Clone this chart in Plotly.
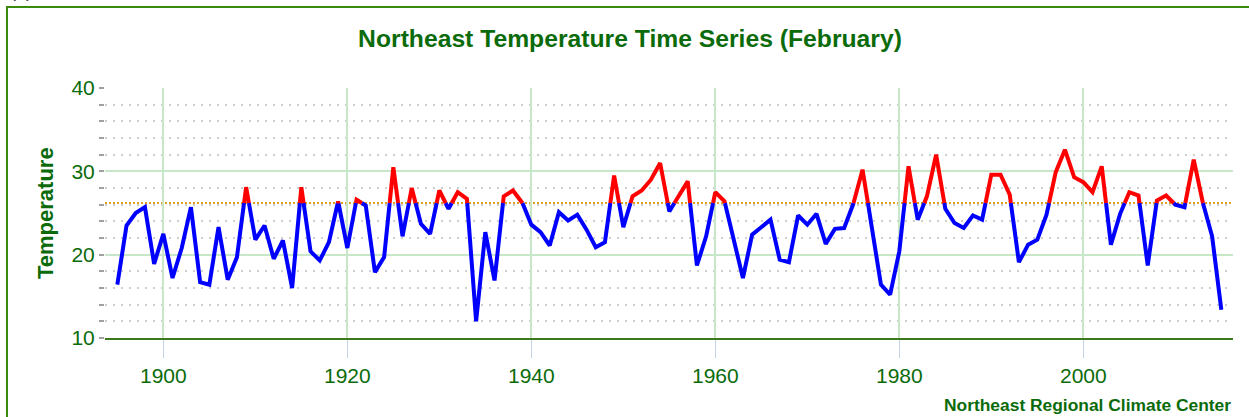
import plotly.graph_objects as go

years = list(range(1895, 2016))
temps = [
    16.4, 23.5, 25.0, 25.7, 18.9,                    # 1895-1899
    22.5, 17.2, 20.8, 25.7, 16.7, 16.4, 23.3, 17.0, 19.7, 28.1,  # 1900-1909
    21.8, 23.5, 19.5, 21.7, 16.0, 28.1, 20.4, 19.3, 21.5, 26.4,  # 1910-1919
    20.8, 26.6, 25.9, 17.9, 19.7, 30.5, 22.2, 28.0, 23.7, 22.5,  # 1920-1929
    27.7, 25.5, 27.5, 26.7, 12.0, 22.7, 16.9, 27.0, 27.7, 26.3,  # 1930-1939
    23.6, 22.7, 21.1, 25.1, 24.1, 24.8, 23.0, 20.9, 21.5, 29.5,  # 1940-1949
    23.3, 27.0, 27.7, 29.0, 31.0, 25.2, 27.0, 28.8, 18.7, 22.2,  # 1950-1959
    27.5, 26.4, 21.8, 17.2, 22.4, 23.3, 24.2, 19.4, 19.1, 24.7,  # 1960-1969
    23.6, 24.9, 21.3, 23.1, 23.2, 26.1, 30.2, 23.4, 16.4, 15.2,  # 1970-1979
    20.4, 30.6, 24.2, 27.0, 32.0, 25.5, 23.8, 23.2, 24.7, 24.2,  # 1980-1989
    29.6, 29.6, 27.2, 19.1, 21.2, 21.8, 24.8, 29.9, 32.6, 29.3,  # 1990-1999
    28.7, 27.5, 30.6, 21.2, 24.9, 27.5, 27.1, 18.7, 26.5, 27.1,  # 2000-2009
    26.0, 25.7, 31.4, 26.2, 22.2, 13.4,                          # 2010-2015
]
mean_value = 26.2

x_ticks = [1900, 1920, 1940, 1960, 1980, 2000]
y_ticks = [10, 20, 30, 40]

GREEN = "#0b6b0b"
FONT = "Arial, Liberation Sans, sans-serif"

# densify with crossing points at the mean so colours split exactly there
dx, dy = [], []
for i in range(len(years)):
    if i > 0:
        y0, y1 = temps[i - 1], temps[i]
        if (y0 - mean_value) * (y1 - mean_value) < 0:
            t = (mean_value - y0) / (y1 - y0)
            dx.append(years[i - 1] + t * (years[i] - years[i - 1]))
            dy.append(mean_value)
    dx.append(years[i])
    dy.append(temps[i])

red_y = [v if v >= mean_value else None for v in dy]
blue_y = [v if v <= mean_value else None for v in dy]

fig = go.Figure()
fig.add_trace(go.Scatter(x=dx, y=blue_y, mode="lines",
                         line=dict(color="#0000ff", width=4),
                         connectgaps=False, hoverinfo="skip", showlegend=False))
fig.add_trace(go.Scatter(x=dx, y=red_y, mode="lines",
                         line=dict(color="#ff0000", width=4),
                         connectgaps=False, hoverinfo="skip", showlegend=False))

fig.add_shape(type="line", xref="paper", x0=0, x1=1, yref="y",
              y0=mean_value, y1=mean_value,
              line=dict(color="#e0a020", width=2, dash="2px,2px"), layer="below")

# outer frame
fig.add_shape(type="rect", xref="paper", yref="paper",
              x0=(7 - 105) / 1128, x1=(1270 - 105) / 1128,
              y0=(338 - 440) / 250, y1=1 + (88 - 7) / 250,
              line=dict(color="#3a8a10", width=2), fillcolor="rgba(0,0,0,0)")

fig.update_layout(
    width=1249, height=417,
    margin=dict(l=105, r=16, t=88, b=79),
    paper_bgcolor="white", plot_bgcolor="white",
    font=dict(family=FONT, color=GREEN),
    title=dict(text="<b>Northeast Temperature Time Series (February)</b>",
               x=630 / 1249, xref="container", xanchor="center",
               y=1 - 38 / 417, yref="container", yanchor="middle",
               font=dict(size=24.7, color=GREEN, family=FONT)),
    xaxis=dict(range=[1893.66, 2016.27], tickvals=x_ticks,
               ticktext=[str(v) for v in x_ticks],
               showgrid=True, gridcolor="#c8e6c8", gridwidth=2,
               ticks="outside", ticklen=18, tickcolor="#c8d4ec", tickwidth=1,
               showline=True, linecolor="#3a7a1a", linewidth=2.2,
               zeroline=False,
               tickfont=dict(size=21, color=GREEN, family=FONT)),
    yaxis=dict(range=[10, 40], tickvals=y_ticks,
               showgrid=True, gridcolor="#c8e6c8", gridwidth=2,
               ticks="outside", ticklen=5, tickcolor="#a0a0a0", tickwidth=2,
               zeroline=False, showline=False,
               minor=dict(dtick=2, tick0=10, showgrid=True, gridcolor="#cfcfcf",
                          gridwidth=2, griddash="2px,6px",
                          ticks="outside", ticklen=5, tickcolor="#a0a0a0", tickwidth=2),
               tickfont=dict(size=21, color=GREEN, family=FONT)),
    annotations=[
        dict(text="<b>Temperature</b>", textangle=-90, xref="paper", yref="paper",
             x=(45 - 105) / 1128, y=0.5, xanchor="center", yanchor="middle",
             showarrow=False, font=dict(size=22, color=GREEN, family=FONT)),
        dict(text="<b>Northeast Regional Climate Center</b>", xref="paper", yref="paper",
             x=1.0, y=(338 - 405) / 250, xanchor="right", yanchor="middle",
             showarrow=False, font=dict(size=17.4, color=GREEN, family=FONT)),
        dict(text="(a)", xref="paper", yref="paper",
             x=(8 - 105) / 1128, y=1 + (88 - 3) / 250, xanchor="left", yanchor="bottom",
             showarrow=False, font=dict(size=18, color="#333333", family=FONT)),
    ],
)

fig.write_html("out.html", config={"displayModeBar": False},
               post_script="document.body.style.margin='0px';")
